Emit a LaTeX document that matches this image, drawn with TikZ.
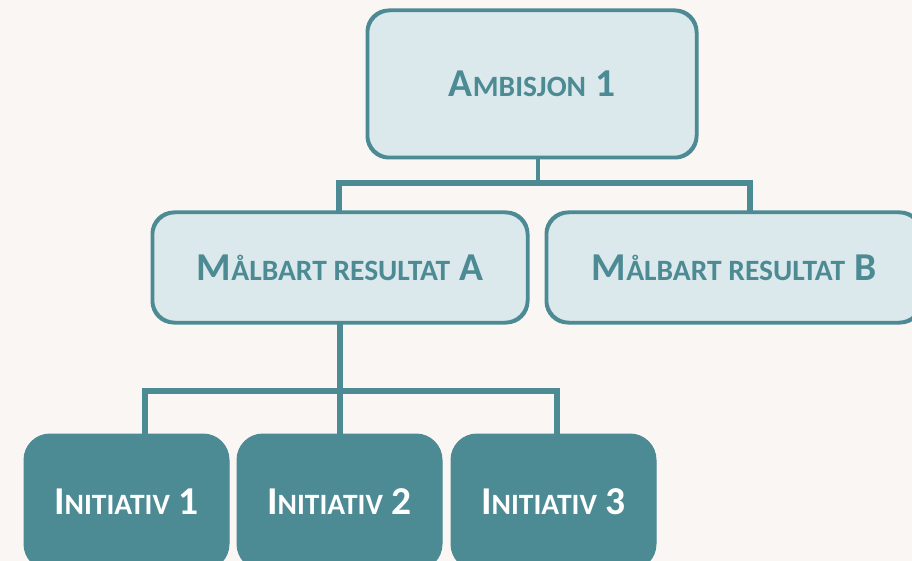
\documentclass[tikz,border=0pt]{standalone}
\usepackage{fontspec}
\setmainfont{Carlito}
\definecolor{teal1}{HTML}{4C8A94}
\definecolor{lightfill}{HTML}{DBE9EC}
\definecolor{bgc}{HTML}{FAF6F3}
\newcommand\bigL[1]{{\fontsize{39.5}{44}\selectfont #1}}
\newcommand\smL[1]{{\fontsize{29.5}{34}\selectfont #1}}
\tikzset{
  lightbox/.style={draw=teal1, line width=2.5pt, fill=lightfill, rounded corners=22pt,
    text=teal1, font=\bfseries, inner sep=0pt, anchor=center},
  darkbox/.style={draw=teal1, line width=1pt, fill=teal1, rounded corners=26pt,
    text=white, font=\bfseries, inner sep=0pt, anchor=center,
    minimum width=205pt, minimum height=136pt},
  conn/.style={draw=teal1, line width=6pt},
}
\begin{document}
\begin{tikzpicture}[x=1pt,y=-1pt]
\fill[bgc] (0,0) rectangle (912,561);
\useasboundingbox (0,0) rectangle (912,561);
\node[lightbox, minimum width=328pt, minimum height=146pt] (amb) at (532,84)
  {\bigL{A}\smL{MBISJON}\bigL{ 1}};
\node[lightbox, minimum width=374pt, minimum height=109pt] (ma) at (340,267.5)
  {\bigL{M}\smL{ÅLBART RESULTAT}\bigL{ A}};
\node[lightbox, minimum width=374pt, minimum height=109pt] (mb) at (734,267.5)
  {\bigL{M}\smL{ÅLBART RESULTAT}\bigL{ B}};
\node[darkbox] (i1) at (126.5,502) {\bigL{I}\smL{NITIATIV}\bigL{ 1}};
\node[darkbox] (i2) at (339.5,502) {\bigL{I}\smL{NITIATIV}\bigL{ 2}};
\node[darkbox] (i3) at (553.5,502) {\bigL{I}\smL{NITIATIV}\bigL{ 3}};
\coordinate (h1) at (538,183);
\coordinate (h2) at (391,391);
\draw[conn, line width=4.5pt] ([xshift=6pt]amb.south) -- ([xshift=6pt]amb.south |- h1);
\draw[conn] ([xshift=-1pt]ma.north) -- ([xshift=-1pt]ma.north |- h1)
  -- ([xshift=16pt]mb.north |- h1) -- ([xshift=16pt]mb.north);
\draw[conn] (ma.south) -- (ma.south |- h2);
\draw[conn] ([xshift=18pt]i1.north) -- ([xshift=18pt]i1.north |- h2)
  -- ([xshift=3.5pt]i3.north |- h2) -- ([xshift=3.5pt]i3.north);
\draw[conn] (i2.north) -- (i2.north |- h2);
% redraw borders over connector ends
\draw[teal1, line width=2.5pt, rounded corners=22pt] (amb.south west) rectangle (amb.north east);
\draw[teal1, line width=2.5pt, rounded corners=22pt] (ma.south west) rectangle (ma.north east);
\draw[teal1, line width=2.5pt, rounded corners=22pt] (mb.south west) rectangle (mb.north east);
\end{tikzpicture}
\end{document}
